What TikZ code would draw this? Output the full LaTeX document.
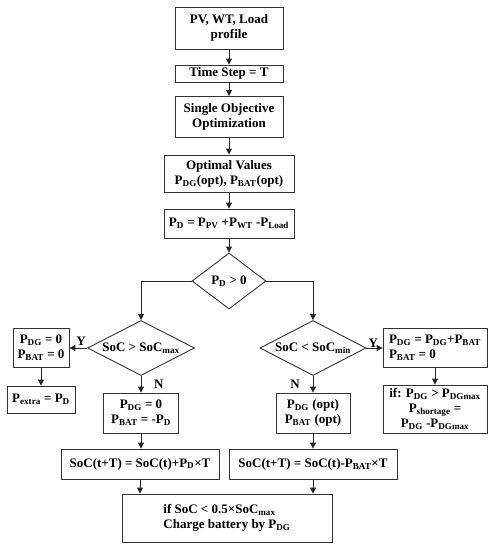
\documentclass[tikz,border=0pt]{standalone}
\usepackage{fontspec}
\setmainfont{Liberation Serif}
\usetikzlibrary{arrows.meta,shapes.geometric}
\newcommand{\sbs}[1]{\textsubscript{#1}}
\begin{document}
\begin{tikzpicture}[x=1pt, y=-1pt,
	font=\fontsize{13}{15}\selectfont\bfseries,
	box/.style={draw=black!80, line width=0.9pt, align=center, inner sep=2pt},
	test/.style={draw=black!80, line width=0.9pt, diamond, inner sep=0pt, align=center},
	arr/.style={-{Triangle[length=6pt,width=6pt]}, black!85, line width=0.9pt},
	lbl/.style={inner sep=1pt}]
	\useasboundingbox (0,0) rectangle (492,550);

	% Hauptstrang
	\node[box, minimum width=108, minimum height=42] (prof) at (229,28) {PV, WT, Load\\profile};
	\node[box, minimum width=108, minimum height=17] (step) at (229,73.5) {Time Step = T};
	\node[box, minimum width=108, minimum height=41] (opt) at (229,117) {Single Objective\\Optimization};
	\node[box, minimum width=130, minimum height=37] (vals) at (229,173.5)
		{Optimal Values\\P\sbs{DG}(opt), P\sbs{BAT}(opt)};
	\node[box, minimum width=130, minimum height=29] (pd) at (229,223.5)
		{P\sbs{D} = P\sbs{PV} +P\sbs{WT} -P\sbs{Load}};
	\node[test, aspect=1.3, minimum width=74, minimum height=56] (pdtest) at (229,281) {P\sbs{D} > 0};

	% Ueberschuss (links)
	\node[test, aspect=2, minimum width=107, minimum height=55] (maxtest) at (141,348) {SoC > SoC\sbs{max}};
	\node[box, minimum width=56, minimum height=39] (full) at (41,348) {P\sbs{DG} = 0\\P\sbs{BAT} = 0};
	\node[box, minimum width=68, minimum height=27] (extra) at (41,399.5) {P\sbs{extra} = P\sbs{D}};
	\node[box, minimum width=75, minimum height=40] (charge) at (141,413) {P\sbs{DG} = 0\\P\sbs{BAT} = -P\sbs{D}};
	\node[box, minimum width=158, minimum height=30] (socup) at (140,464) {SoC(t+T) = SoC(t)+P\sbs{D}×T};

	% Defizit (rechts)
	\node[test, aspect=2, minimum width=106, minimum height=55] (mintest) at (313,348) {SoC < SoC\sbs{min}};
	\node[box, align=left, minimum width=104, minimum height=39] (empty) at (435,347.5)
		{P\sbs{DG} = P\sbs{DG}+P\sbs{BAT}\\P\sbs{BAT} = 0};
	\node[box, minimum width=104, minimum height=48] (short) at (435,409)
		{if: P\sbs{DG} > P\sbs{DGmax}\\P\sbs{shortage} =\\P\sbs{DG} -P\sbs{DGmax}};
	\node[box, minimum width=74, minimum height=40] (keep) at (313,413) {P\sbs{DG} (opt)\\P\sbs{BAT} (opt)};
	\node[box, minimum width=168, minimum height=30] (socdn) at (313,464) {SoC(t+T) = SoC(t)-P\sbs{BAT}×T};

	% Abschluss
	\node[box, align=left, minimum width=210, minimum height=48] (last) at (227,518)
		{if SoC < 0.5×SoC\sbs{max}\\Charge battery by P\sbs{DG}};

	% Pfeile
	\draw[arr] (prof) -- (step);
	\draw[arr] (step) -- (opt);
	\draw[arr] (opt) -- (vals);
	\draw[arr] (vals) -- (pd);
	\draw[arr] (pd) -- (pdtest);
	\draw[arr] (pdtest.west) -| (maxtest.north);
	\draw[arr] (pdtest.east) -| (mintest.north);
	\draw[arr] (maxtest.west) -- (full.east);
	\draw[arr] (full) -- (extra);
	\draw[arr] (maxtest.south) -- (charge.north);
	\draw[arr] (charge.south) -- (charge.south |- socup.north);
	\draw[arr] (socup.south) -- (socup.south |- last.north);
	\draw[arr] (mintest.east) -- (mintest.east -| empty.west);
	\draw[arr] (empty) -- (short);
	\draw[arr] (mintest.south) -- (keep.north);
	\draw[arr] (keep) -- (socdn);
	\draw[arr] (socdn.south) -- (socdn.south |- last.north);

	% Y/N
	\node[lbl, anchor=south] at ([xshift=-6pt,yshift=1pt]maxtest.west) {Y};
	\node[lbl, anchor=south west] at ([xshift=1pt,yshift=-1pt]mintest.east) {Y};
	\node[lbl, anchor=west] at ([xshift=12pt,yshift=-8pt]maxtest.south) {N};
	\node[lbl, anchor=east] at ([xshift=-12pt,yshift=-8pt]mintest.south) {N};
\end{tikzpicture}
\end{document}
